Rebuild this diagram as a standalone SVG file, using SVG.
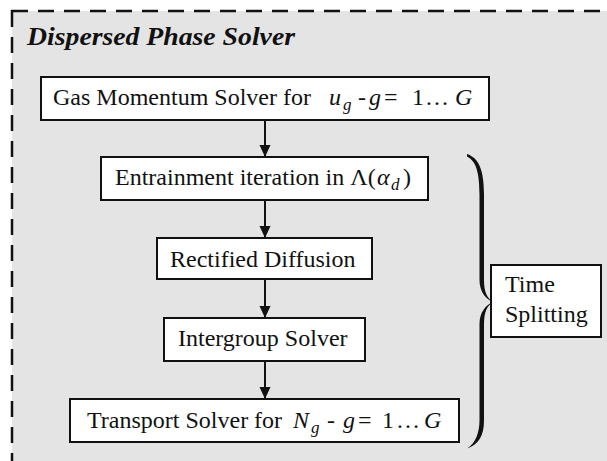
<svg xmlns="http://www.w3.org/2000/svg" width="607" height="461" viewBox="0 0 607 461">
<defs>
<style>
.box{fill:#ffffff;stroke:#111;stroke-width:2}
text{font-family:'Liberation Serif','DejaVu Serif',serif;fill:#111}
.t{font-size:24px}
.m{font-size:24px;font-style:italic}
.s{font-size:17px;font-style:italic}
.edge{stroke:#111;stroke-width:2;fill:none}
</style>
<marker id="ah" markerUnits="userSpaceOnUse" markerWidth="12" markerHeight="14" viewBox="0 0 12 14" refX="12" refY="5.5" orient="auto">
<path d="M0,0 L12,5.5 L0,11 Z" fill="#111"/>
</marker>
</defs>
<rect x="0" y="0" width="607" height="461" fill="#ffffff"/>
<g id="container">
<rect x="12" y="11" width="620" height="480" fill="#e4e4e4" stroke="#111" stroke-width="2.5" stroke-dasharray="16 10"/>
<text x="27" y="45" font-size="25" font-weight="bold" font-style="italic" textLength="268" lengthAdjust="spacingAndGlyphs">Dispersed Phase Solver</text>
</g>
<g id="connectors">
<line class="edge" x1="265" y1="120" x2="265" y2="157" marker-end="url(#ah)"/>
<line class="edge" x1="265" y1="200" x2="265" y2="238" marker-end="url(#ah)"/>
<line class="edge" x1="265" y1="279" x2="265" y2="318" marker-end="url(#ah)"/>
<line class="edge" x1="265" y1="361" x2="265" y2="399" marker-end="url(#ah)"/>
</g>
<g id="gas-momentum">
<rect class="box" x="41" y="77" width="448" height="43"/>
<text class="t" x="53" y="105">Gas Momentum Solver for</text>
<text class="m" x="329" y="105">u</text>
<text class="s" x="343" y="110">g</text>
<text class="t" x="358" y="105">-</text>
<text class="m" x="369" y="105">g</text>
<text class="t" x="384" y="105">=</text>
<text class="t" x="412" y="105">1</text>
<text class="t" x="425" y="105">…</text>
<text class="m" x="455" y="105">G</text>
</g>
<g id="entrainment">
<rect class="box" x="101" y="157" width="327" height="43"/>
<text class="t" x="115" y="185">Entrainment iteration in Λ(</text>
<text class="m" x="377" y="185">α</text>
<text class="s" x="391" y="190">d</text>
<text class="t" x="403" y="185">)</text>
</g>
<g id="rectified">
<rect class="box" x="157" y="238" width="215" height="41"/>
<text class="t" x="170" y="267">Rectified Diffusion</text>
</g>
<g id="intergroup">
<rect class="box" x="164" y="318" width="201" height="43"/>
<text class="t" x="178" y="346">Intergroup Solver</text>
</g>
<g id="transport">
<rect class="box" x="70" y="399" width="389" height="43"/>
<text class="t" x="87" y="428">Transport Solver for</text>
<text class="m" x="293" y="428">N</text>
<text class="s" x="311" y="433">g</text>
<text class="t" x="327" y="428">-</text>
<text class="m" x="343" y="428">g</text>
<text class="t" x="358" y="428">=</text>
<text class="t" x="382" y="428">1</text>
<text class="t" x="396" y="428">…</text>
<text class="m" x="424" y="428">G</text>
</g>
<g id="brace">
<path d="M467,154 C479,158 484,170 484,195 L484,280 C484,292 487,298 493,302 C486,299 479.5,292 479.5,280 L479.5,195 C479.5,172 476,161 467,156.5 Z" fill="#111"/>
<path d="M493,302 C487,306 484,312 484,324 L484,420 C484,436 479,444 467,448.5 C476,443 479.5,432 479.5,420 L479.5,324 C479.5,312 486,305 493,302 Z" fill="#111"/>
</g>
<g id="time-splitting">
<rect class="box" x="491" y="265" width="110" height="72"/>
<text class="t" x="505" y="292">Time</text>
<text class="t" x="505" y="322">Splitting</text>
</g>
</svg>
